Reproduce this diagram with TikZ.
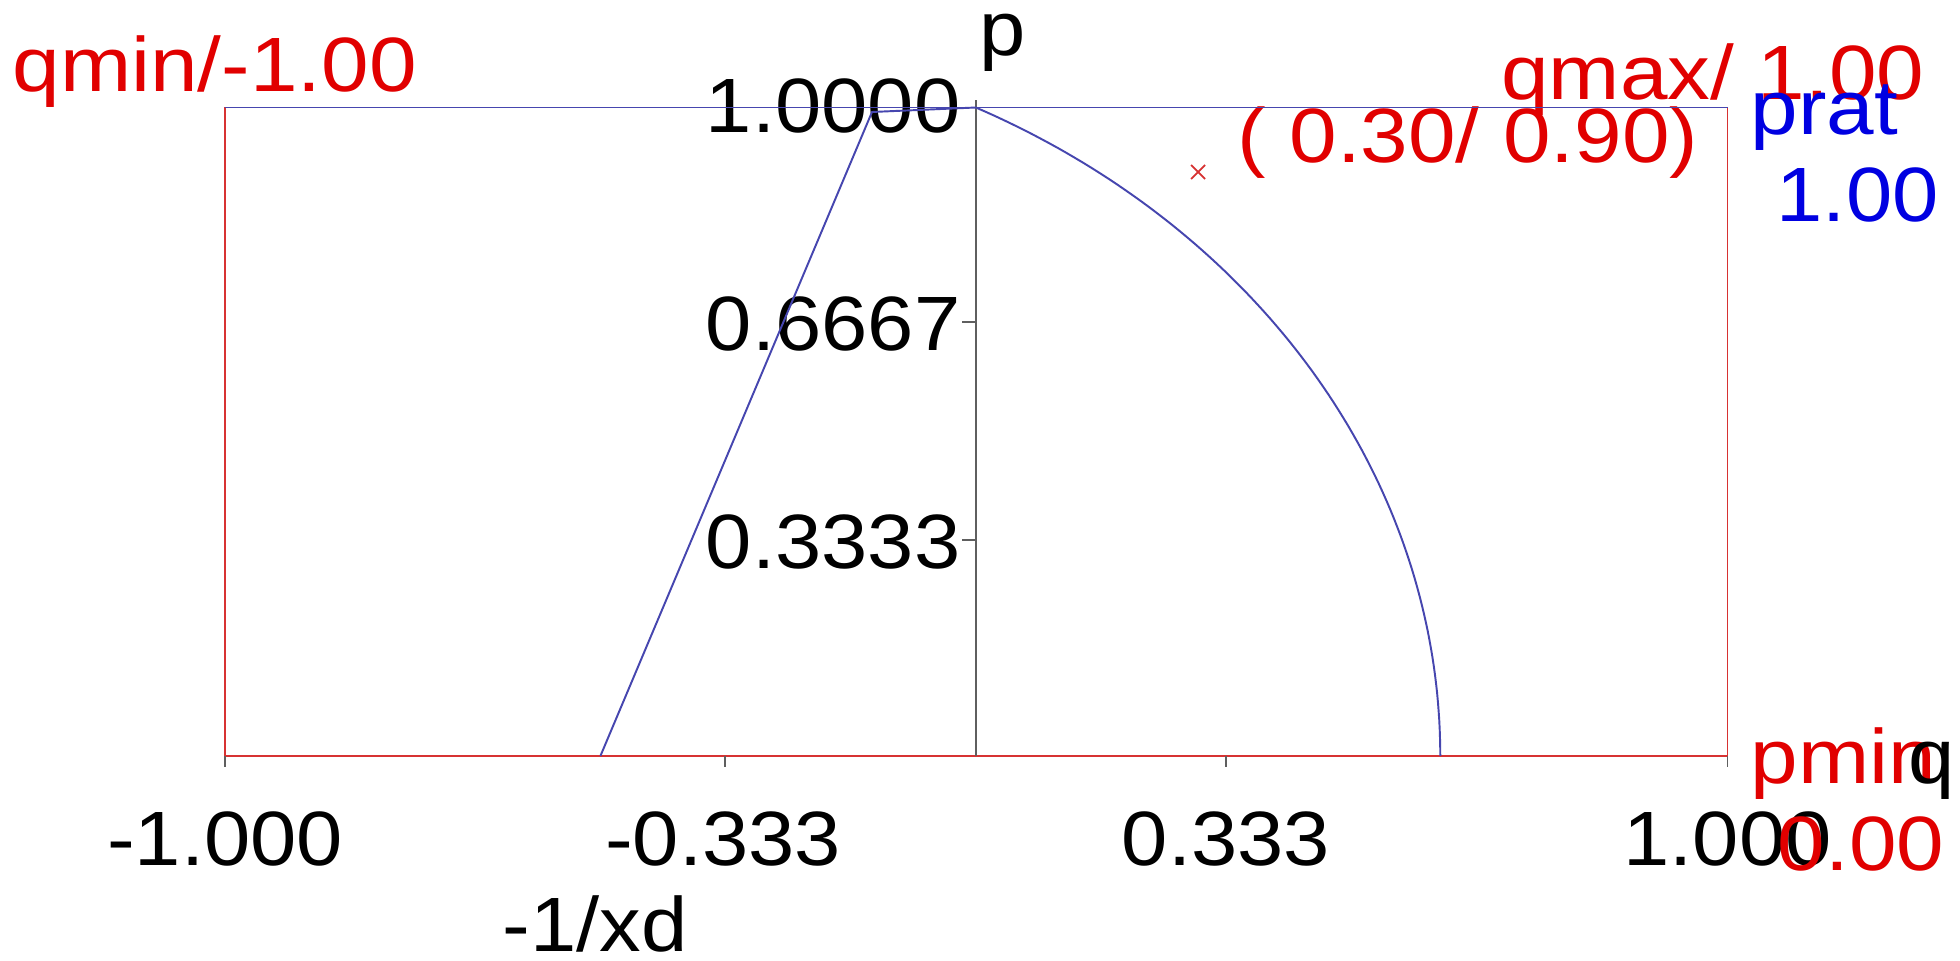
\documentclass[tikz,border=0pt]{standalone}
\usepackage{fontspec}
\setmainfont{Liberation Sans}
\usetikzlibrary{calc}
\definecolor{txtred}{RGB}{225,0,0}
\definecolor{txtblue}{RGB}{0,0,225}
\definecolor{linered}{RGB}{215,50,50}
\definecolor{lineblue}{RGB}{70,70,175}
\definecolor{axisgray}{RGB}{95,95,95}
\newcommand{\wlab}[1]{\scalebox{1.08}[1]{#1}}
\newcommand{\wred}[1]{\scalebox{1.11}[1]{#1}}
\tikzset{
  lbl/.style={inner sep=0pt, font=\fontsize{21.9}{26}\selectfont},
  redlbl/.style={lbl, text=txtred},
  bluelbl/.style={lbl, text=txtblue},
  blklbl/.style={lbl, text=black},
  boxred/.style={draw=linered, line width=0.5pt},
  boxblue/.style={draw=lineblue, line width=0.5pt},
  curveblue/.style={draw=lineblue, line width=0.55pt},
  axisline/.style={draw=axisgray, line width=0.5pt},
  tickline/.style={draw=axisgray, line width=0.5pt},
}
\begin{document}
\begin{tikzpicture}[x=0.01cm,y=-0.01cm]
\useasboundingbox (0,0) rectangle (1960,961);
\fill[white] (0,0) rectangle (1960,961);

% key coordinates (pixels, y downwards)
\coordinate (BL) at (225,756);
\coordinate (BR) at (1727.5,756);
\coordinate (TL) at (225,107.5);
\coordinate (TR) at (1727.5,107.5);
\coordinate (O) at (976,756);
\coordinate (Ptop) at (976,107.5);
\coordinate (Atop) at (976,100);
\coordinate (Lbot) at (600.4,756);
\coordinate (Lmid) at (872,112);

% labels
\node[redlbl, anchor=base west] (qmin) at (12,92) {\wred{qmin/-1.00}};
\node[blklbl, anchor=base west] (plab) at (979,56) {\wlab{p}};
\node[blklbl, anchor=base east] (y1) at (961,133) {\wlab{1.0000}};
\node[blklbl, anchor=base east] (y2) at (961,351) {\wlab{0.6667}};
\node[blklbl, anchor=base east] (y3) at (961,568) {\wlab{0.3333}};
\node[blklbl, anchor=base] (x1) at (225,865) {\wlab{-1.000}};
\node[blklbl, anchor=base] (x2) at (723,865) {\wlab{-0.333}};
\node[blklbl, anchor=base] (x3) at (1226,865) {\wlab{0.333}};
\node[blklbl, anchor=base] (x4) at (1727.5,865) {\wlab{1.000}};
\node[blklbl, anchor=base] (xd) at (595,951) {\wlab{-1/xd}};
\node[redlbl, anchor=base west] (pmin) at (1750,783) {\wred{pmin}};
\node[blklbl, anchor=base east] (qlab) at (1955,783) {\wlab{q}};
\node[redlbl, anchor=base west] (pminv) at (1777,870) {\wred{0.00}};
\node[redlbl, anchor=base east] (qmax) at (1925,100) {\wred{qmax/ 1.00}};
\node[redlbl, anchor=base east] (pt) at (1699,163) {\wred{( 0.30/ 0.90)}};
\node[bluelbl, anchor=base west] (prat) at (1750,135) {\wred{prat}};
\node[bluelbl, anchor=base west] (pratv) at (1776,222) {\wlab{1.00}};

% frame
\draw[boxred] (TL) -- (BL) -- (BR) -- (TR);
\draw[boxblue] (TL) -- (TR);

% axis and ticks
\draw[axisline] (O) -- (Atop);
\draw[tickline] (BL) -- ++(0,11);
\draw[tickline] (725,756) -- ++(0,11);
\draw[tickline] (1226,756) -- ++(0,11);
\draw[tickline] (BR) -- ++(0,11);
\draw[tickline] (Ptop) -- ++(-14,0);
\draw[tickline] (976,322) -- ++(-14,0);
\draw[tickline] (976,540) -- ++(-14,0);

% curves: stability line and circle centred at -1/xd
\draw[curveblue] (Lbot) -- (Lmid) -- (Ptop);
\draw[curveblue] plot[domain=63.435:0, samples=90, variable=\t]
  ({600.4+839.9*cos(\t)}, {756-725.0*sin(\t)});

% operating point marker
\coordinate (M) at (1198,172);
\draw[draw=linered, line width=0.5pt] ($(M)+(-7,-7)$) -- ($(M)+(7,7)$);
\draw[draw=linered, line width=0.5pt] ($(M)+(-7,7)$) -- ($(M)+(7,-7)$);
\end{tikzpicture}
\end{document}
